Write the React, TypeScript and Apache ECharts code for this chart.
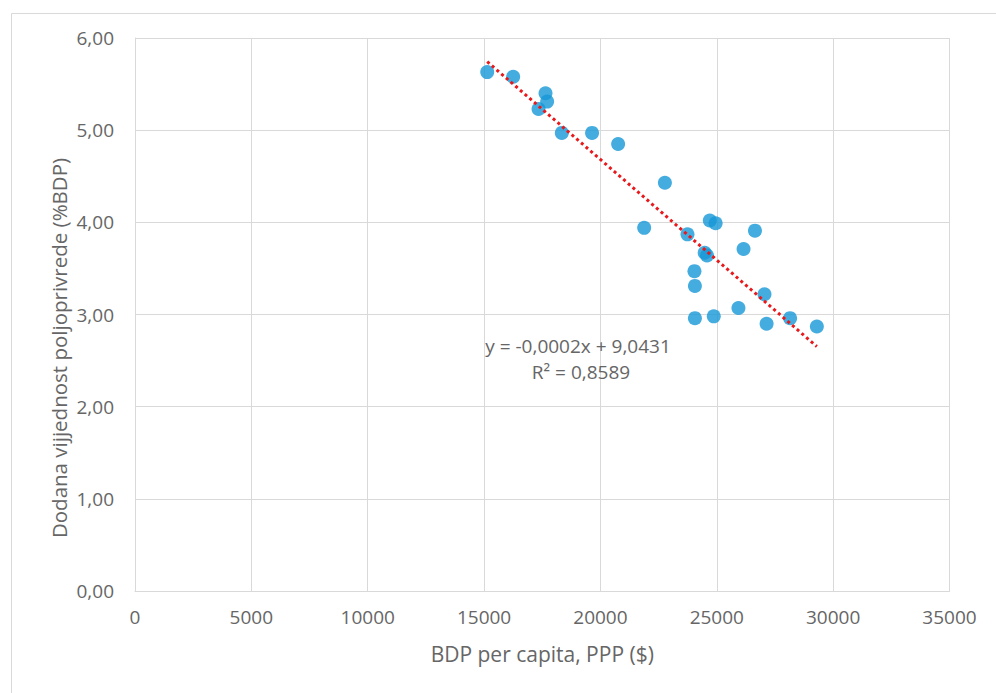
import React, { useEffect, useRef } from "react";
import * as echarts from "echarts";

const gdpPerCapita: number[] = [
  15135, 16250, 17640, 17710, 17340, 18340, 19640, 20760, 22770, 21880,
  24700, 24950, 26640, 23740, 24480, 24580, 26150, 24040, 24060, 27050,
  25930, 24060, 24870, 28150, 27140, 29300,
];
const agriValueAdded: number[] = [
  5.63, 5.58, 5.40, 5.31, 5.23, 4.97, 4.97, 4.85, 4.43, 3.94,
  4.02, 3.99, 3.91, 3.87, 3.67, 3.64, 3.71, 3.47, 3.31, 3.22,
  3.07, 2.96, 2.98, 2.96, 2.90, 2.87,
];
const xTitle = "BDP per capita, PPP ($)";
const yTitle = "Dodana vijjednost poljoprivrede (%BDP)";
const equationText = "y = -0,0002x + 9,0431";
const r2Text = "R² = 0,8589";

const FONT = "'Open Sans', Lato, sans-serif";
const GRAY = "#666666";
const GRID = "#d9d9d9";

function regression(xs: number[], ys: number[]) {
  const n = xs.length;
  const mx = xs.reduce((a, b) => a + b, 0) / n;
  const my = ys.reduce((a, b) => a + b, 0) / n;
  let sxy = 0;
  let sxx = 0;
  for (let i = 0; i < n; i++) {
    sxy += (xs[i] - mx) * (ys[i] - my);
    sxx += (xs[i] - mx) * (xs[i] - mx);
  }
  const slope = sxy / sxx;
  return { slope, intercept: my - slope * mx };
}

export default function App() {
  const ref = useRef<HTMLDivElement>(null);
  useEffect(() => {
    if (!ref.current) return;
    const chart = echarts.init(ref.current, undefined, { renderer: "svg" });
    const points = gdpPerCapita.map((x, i) => [x, agriValueAdded[i]]);
    const { slope, intercept } = regression(gdpPerCapita, agriValueAdded);
    const xmin = Math.min(...gdpPerCapita);
    const xmax = Math.max(...gdpPerCapita);
    const trend = [
      [xmin, slope * xmin + intercept],
      [xmax, slope * xmax + intercept],
    ];
    chart.setOption({
      animation: false,
      backgroundColor: "#ffffff",
      textStyle: { fontFamily: FONT },
      grid: { left: 135, top: 38, right: 46.5, bottom: 102, containLabel: false },
      xAxis: {
        type: "value",
        min: 0,
        max: 35000,
        interval: 5000,
        name: xTitle,
        nameLocation: "middle",
        nameGap: 52,
        nameTextStyle: { color: GRAY, fontSize: 21, fontFamily: FONT },
        axisLine: { show: true, lineStyle: { color: GRID, width: 1 } },
        axisTick: { show: false },
        axisLabel: {
          color: GRAY,
          fontSize: 19,
          fontFamily: FONT,
          margin: 16,
          formatter: (v: number) => String(v),
        },
        splitLine: { show: true, lineStyle: { color: GRID, width: 1 } },
      },
      yAxis: {
        type: "value",
        min: 0,
        max: 6,
        interval: 1,
        axisLine: { show: true, lineStyle: { color: GRID, width: 1 } },
        axisTick: { show: false },
        axisLabel: {
          color: GRAY,
          fontSize: 19,
          fontFamily: FONT,
          margin: 21,
          formatter: (v: number) => v.toFixed(2).replace(".", ","),
        },
        splitLine: { show: true, lineStyle: { color: GRID, width: 1 } },
      },
      graphic: [
        {
          type: "rect",
          left: 9,
          top: 11,
          shape: { width: 1100, height: 800 },
          style: { fill: "none", stroke: GRID, lineWidth: 1 },
          silent: true,
          z: -1,
        },
        {
          type: "text",
          x: 59,
          y: 348,
          rotation: Math.PI / 2,
          style: {
            text: yTitle,
            fill: GRAY,
            fontSize: 20.5,
            fontFamily: FONT,
            align: "center",
            verticalAlign: "middle",
          },
          z: 10,
        },
        {
          type: "text",
          x: 578,
          y: 346,
          style: {
            text: equationText,
            fill: GRAY,
            fontSize: 19,
            fontFamily: FONT,
            align: "center",
            verticalAlign: "middle",
          },
          z: 10,
        },
        {
          type: "text",
          x: 581,
          y: 372,
          style: {
            text: r2Text,
            fill: GRAY,
            fontSize: 19,
            fontFamily: FONT,
            align: "center",
            verticalAlign: "middle",
          },
          z: 10,
        },
      ],
      series: [
        {
          type: "scatter",
          data: points,
          symbol: "circle",
          symbolSize: 14,
          itemStyle: { color: "#1597d6" },
          z: 2,
        },
        {
          type: "line",
          data: trend,
          showSymbol: false,
          symbol: "none",
          silent: true,
          lineStyle: { color: "#e8191c", width: 3, type: [3, 3.2], cap: "butt" },
          z: 3,
        },
      ],
    });
    return () => chart.dispose();
  }, []);
  return (
    <div
      ref={ref}
      style={{ position: "absolute", left: 0, top: 0, width: 996, height: 693 }}
    />
  );
}
